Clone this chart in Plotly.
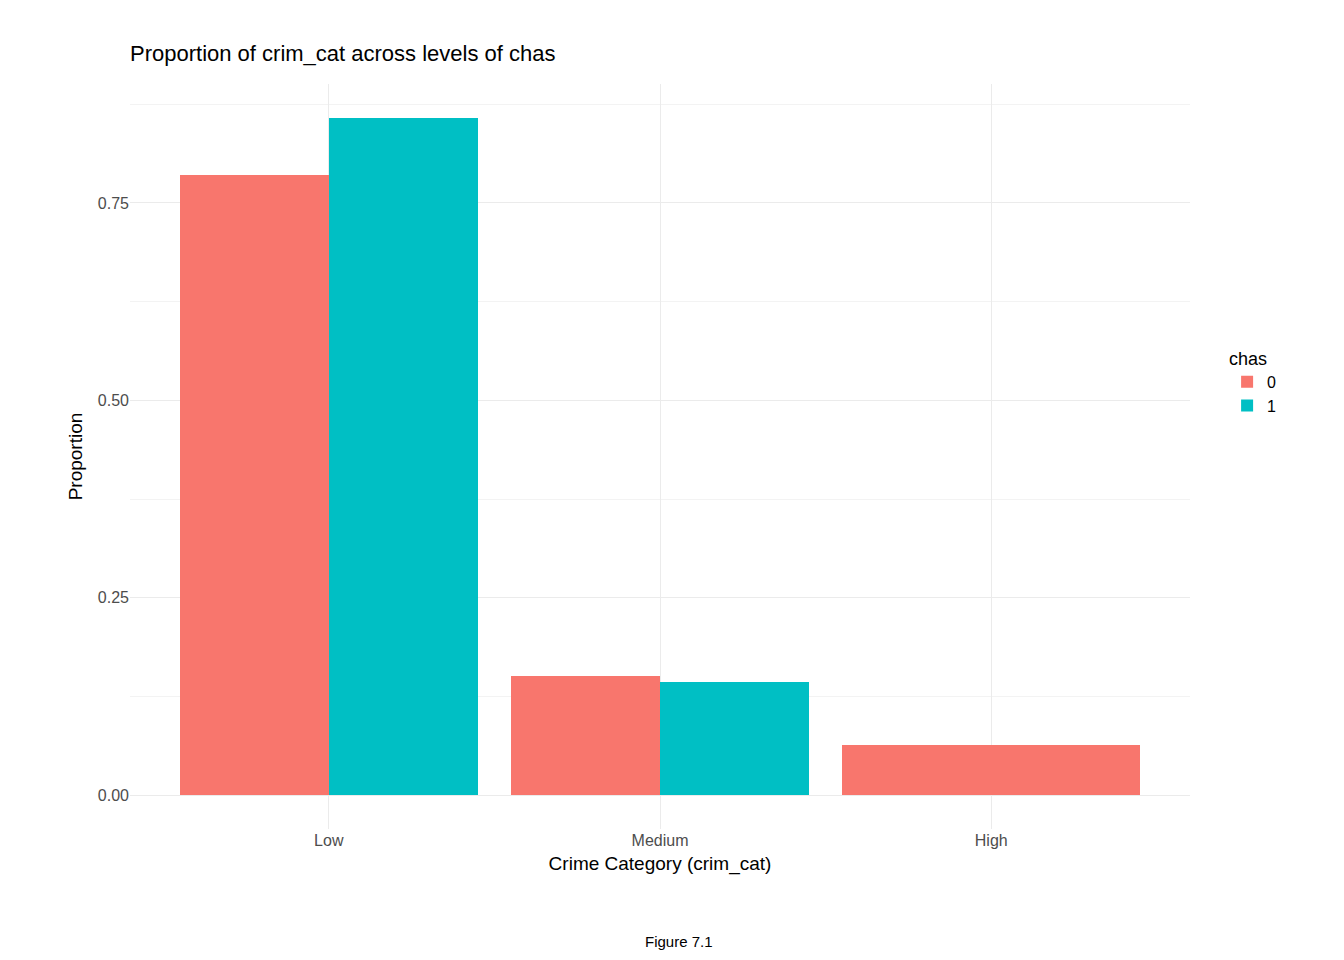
import plotly.graph_objects as go

categories = ["Low", "Medium", "High"]
groups = ["0", "1"]
values = {
    "0": [0.7856, 0.1507, 0.0637],
    "1": [0.8571, 0.1429, 0.0],
}
colors = {"0": "#F8766D", "1": "#00BFC4"}

# ggplot-style dodge: groups present in a category share a 0.9-wide slot
total_w = 0.9
present = [[g for g in groups if values[g][i] > 0] for i in range(len(categories))]

fig = go.Figure()
for g in groups:
    xs, ys, ws = [], [], []
    for i in range(len(categories)):
        if values[g][i] <= 0:
            continue
        n = len(present[i])
        k = present[i].index(g)
        w = total_w / n
        xs.append(i - total_w / 2 + w * (k + 0.5))
        ys.append(values[g][i])
        ws.append(w)
    fig.add_trace(go.Bar(x=xs, y=ys, width=ws, name=g, marker_color=colors[g],
                         marker_line_width=0))

fig.update_layout(
    width=1344, height=960,
    paper_bgcolor="white", plot_bgcolor="white",
    font=dict(family="Liberation Sans, Arial, sans-serif", color="black"),
    margin=dict(l=122, r=162, t=76, b=139),
    title=dict(text="Proportion of crim_cat across levels of chas", x=122/1344, xanchor="left",
               y=1 - 45/960, yanchor="middle", font=dict(size=22)),
    bargap=0,
    showlegend=True,
    legend=dict(title=dict(text="chas", font=dict(size=18)), font=dict(size=16),
                x=1.035, y=0.6, yanchor="middle", xanchor="left"),
    xaxis=dict(range=[-0.6, 2.6], tickvals=list(range(len(categories))), ticktext=categories,
               showgrid=True, gridcolor="#ebebeb", zeroline=False, ticks="",
               tickfont=dict(size=16, color="#4d4d4d"),
               title=dict(text="Crime Category (crim_cat)", font=dict(size=19), standoff=8)),
    yaxis=dict(range=[-0.0429, 0.9006], tickvals=[0, 0.25, 0.5, 0.75],
               ticktext=["0.00", "0.25", "0.50", "0.75"],
               showgrid=True, gridcolor="#ebebeb", zeroline=False, ticks="",
               minor=dict(tickvals=[0.125, 0.375, 0.625, 0.875], showgrid=True, gridcolor="#f3f3f3"),
               tickfont=dict(size=16, color="#4d4d4d"),
               title=dict(text="Proportion", font=dict(size=19), standoff=10)),
    annotations=[dict(text="Figure 7.1", xref="paper", yref="paper", x=(671-122)/1060,
                      y=(821-933)/745, showarrow=False, font=dict(size=15), yanchor="middle")],
)

fig.write_html("out.html")
